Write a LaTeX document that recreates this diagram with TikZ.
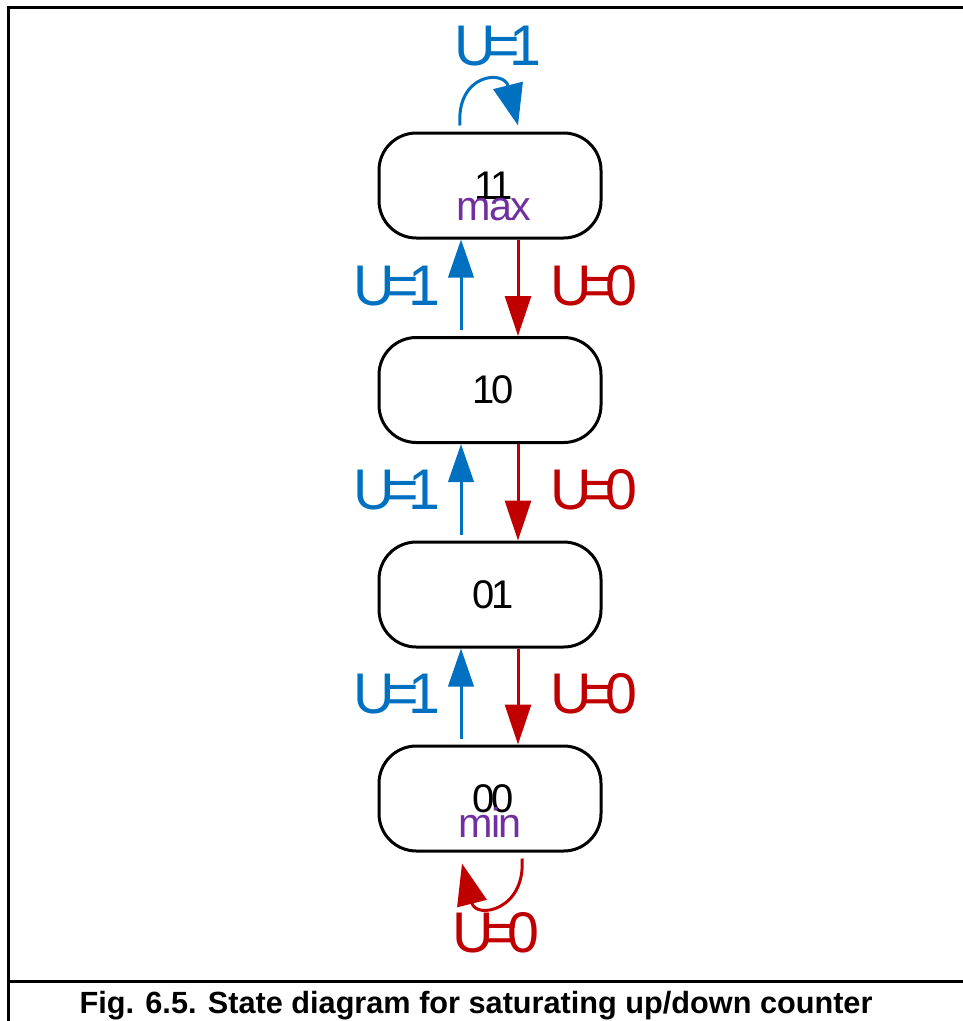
\documentclass[tikz,border=0pt]{standalone}
\usepackage{fontspec}
\setmainfont{Liberation Sans}
\newfontfamily\labelfont[LetterSpace=-17]{Liberation Sans}
\newfontfamily\statefont[LetterSpace=-8]{Liberation Sans}
\newfontfamily\tagfont[LetterSpace=-4]{Liberation Sans}
\usepackage{tikz}
\usetikzlibrary{arrows.meta}
\definecolor{upcol}{RGB}{0,112,192}
\definecolor{downcol}{RGB}{192,0,0}
\definecolor{tagcol}{RGB}{112,48,160}
\colorlet{framecol}{black}
\tikzset{
  state/.style={draw, line width=2.25pt, rounded corners=28pt, inner sep=0pt,
    minimum width=166.5pt, minimum height=78.75pt,
    execute at begin node={\kern5pt},
    font=\statefont\fontsize{30}{30}\selectfont},
  tag/.style={text=tagcol, inner sep=0pt, anchor=base,
    font=\tagfont\fontsize{31}{31}\selectfont},
  uplabel/.style={text=upcol, inner sep=0pt,
    font=\labelfont\fontsize{43}{43}\selectfont},
  downlabel/.style={text=downcol, inner sep=0pt,
    font=\labelfont\fontsize{43}{43}\selectfont},
  uparrow/.style={draw=upcol, line width=2.25pt, -{Triangle[length=28.5pt, width=19pt]}},
  downarrow/.style={draw=downcol, line width=2.25pt, -{Triangle[length=30pt, width=19.5pt]}},
  looparrow/.style={line width=2.25pt, -{Triangle[length=31pt, width=22.5pt]}},
  captext/.style={inner sep=0pt, anchor=base,
    font=\bfseries\fontsize{23}{23}\selectfont}
}

\begin{document}
\begin{tikzpicture}[x=0.75pt, y=-0.75pt]

  % Page frame and caption rule.
  \useasboundingbox (0,0) rectangle (963,1021);
  \draw[line width=2.25pt, framecol] (8.5,1021) -- (8.5,7) -- (963,7);
  \draw[line width=2.25pt, framecol] (8.5,981) -- (963,981);

  % States.
  \node[state] (s11) at (490,185.5) {11};
  \node[state] (s10) at (490,390) {10};
  \node[state] (s01) at (490,594.5) {01};
  \node[state] (s00) at (490,798.5) {00};

  % Saturation tags.
  \node[tag] (maxtag) at ([xshift=3pt, yshift=-25.9pt]s11.center) {max};
  \node[tag] (mintag) at ([yshift=-28.9pt]s00.center) {min};

  % Up and down transitions between neighbours.
  \foreach \hi/\lo/\y in {s11/s10/286, s10/s01/490, s01/s00/694} {
    \draw[uparrow] ([xshift=-21.75pt, yshift=4.5pt]\lo.north) -- ([xshift=-21.75pt]\hi.south);
    \draw[downarrow] ([xshift=21pt]\hi.south) -- ([xshift=21pt]\lo.north);
    \node[uplabel] (up-\lo) at (397,\y) {U=1};
    \node[downlabel] (down-\hi) at (594,\y) {U=0};
  }

  % Self loop at the top.
  \coordinate (maxout) at ([xshift=-22.5pt, yshift=4.5pt]s11.north);
  \coordinate (maxin) at ([xshift=21pt, yshift=4.5pt]s11.north);
  \draw[looparrow, upcol] (maxout) .. controls +(-4,-52) and +(-14,-56) .. (maxin);
  \node[uplabel] (up-s11) at (498,46) {U=1};

  % Self loop at the bottom.
  \coordinate (minout) at ([xshift=24pt, yshift=-4.5pt]s00.south);
  \coordinate (minin) at ([xshift=-21pt, yshift=-8.25pt]s00.south);
  \draw[looparrow, downcol] (minout) .. controls +(4,52) and +(14,56) .. (minin);
  \node[downlabel] (down-s00) at (496,933) {U=0};

  % Caption.
  \node[captext] (caption) at (476,1013) {Fig. 6.5. State diagram for saturating up/down counter};

\end{tikzpicture}
\end{document}
